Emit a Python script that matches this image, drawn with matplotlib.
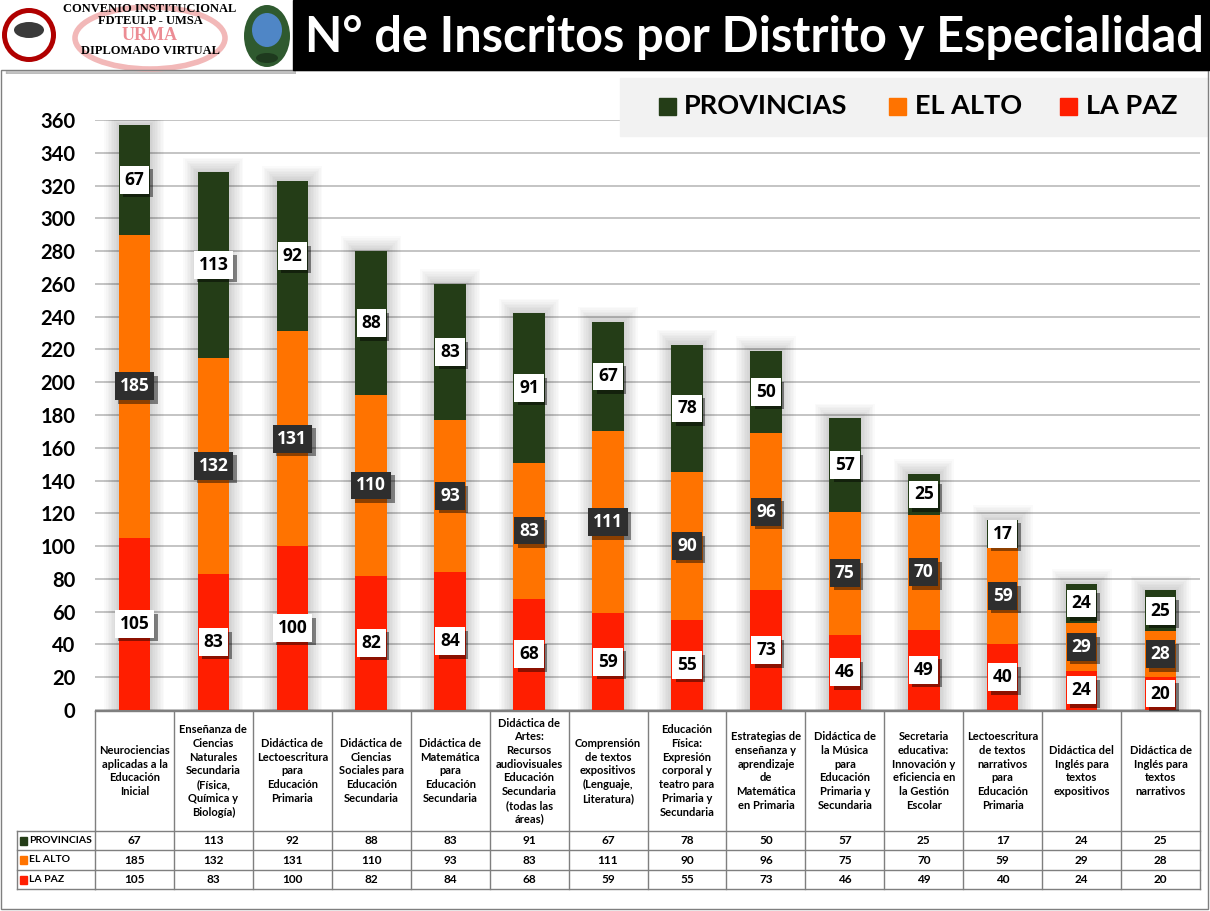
import numpy as np
import matplotlib
matplotlib.use('Agg')
import matplotlib.pyplot as plt
import matplotlib.patheffects as pe
import matplotlib.transforms as mtransforms
from matplotlib.patches import Rectangle, Circle, Ellipse
from matplotlib.lines import Line2D


categories = [
    'Neurociencias\naplicadas a la\nEducación\nInicial',
    'Enseñanza de\nCiencias\nNaturales\nSecundaria\n(Física,\nQuímica y\nBiología)',
    'Didáctica de\nLectoescritura\npara\nEducación\nPrimaria',
    'Didáctica de\nCiencias\nSociales para\nEducación\nSecundaria',
    'Didáctica de\nMatemática\npara\nEducación\nSecundaria',
    'Didáctica de\nArtes:\nRecursos\naudiovisuales\nEducación\nSecundaria\n(todas las\náreas)',
    'Comprensión\nde textos\nexpositivos\n(Lenguaje,\nLiteratura)',
    'Educación\nFísica:\nExpresión\ncorporal y\nteatro para\nPrimaria y\nSecundaria',
    'Estrategias de\nenseñanza y\naprendizaje\nde\nMatemática\nen Primaria',
    'Didáctica de\nla Música\npara\nEducación\nPrimaria y\nSecundaria',
    'Secretaria\neducativa:\nInnovación y\neficiencia en\nla Gestión\nEscolar',
    'Lectoescritura\nde textos\nnarrativos\npara\nEducación\nPrimaria',
    'Didáctica del\nInglés para\ntextos\nexpositivos',
    'Didáctica de\nInglés para\ntextos\nnarrativos',
]
provincias = [67, 113, 92, 88, 83, 91, 67, 78, 50, 57, 25, 17, 24, 25]
el_alto = [185, 132, 131, 110, 93, 83, 111, 90, 96, 75, 70, 59, 29, 28]
la_paz = [105, 83, 100, 82, 84, 68, 59, 55, 73, 46, 49, 40, 24, 20]
series_names = ['PROVINCIAS', 'EL ALTO', 'LA PAZ']
yticks = list(range(0, 361, 20))
title = 'N° de Inscritos por Distrito y Especialidad'

GREEN = '#243D17'
ORANGE = '#FF7300'
RED = '#FF1E00'
colors = [GREEN, ORANGE, RED]

W, H = 1210, 911


def fx(px):
    return px / W


def fy(py):
    return 1 - py / H


fig = plt.figure(figsize=(W / 100, H / 100), dpi=100, facecolor='white')

# outer frame
fig.patches.append(Rectangle((fx(1), fy(909)), fx(1207), (909 - 70) / H, fill=False,
                             edgecolor='#7F7F7F', lw=1, transform=fig.transFigure))

# header band + title
fig.patches.append(Rectangle((fx(293), fy(70)), fx(917), 70 / H, color='black',
                             transform=fig.transFigure))
fig.text(fx(754), fy(38), title, color='white', fontsize=35, fontweight='bold',
         family='Lato', ha='center', va='center')

# logo block
axl = fig.add_axes([0, fy(74), fx(296), 74 / H])
axl.set_xlim(0, 296)
axl.set_ylim(74, 0)
axl.axis('off')
axl.add_patch(Rectangle((6, 6), 290, 68, color='#9a9a9a', alpha=0.6))
axl.add_patch(Rectangle((0, 0), 292, 70, color='white'))
axl.add_patch(Ellipse((150, 38), 150, 62, fill=False, ec='#F2B8B8', lw=4))
axl.add_patch(Circle((29, 35), 27, fc='#B00000'))
axl.add_patch(Circle((29, 35), 22, fc='white'))
axl.add_patch(Ellipse((29, 30), 30, 16, fc='#3a3a3a'))
axl.add_patch(Ellipse((267, 36), 46, 62, fc='#2F5A2F'))
axl.add_patch(Ellipse((267, 30), 30, 34, fc='#4F86C6'))
axl.add_patch(Ellipse((267, 58), 22, 10, fc='#1E3A1E'))
axl.text(150, 9, 'CONVENIO INSTITUCIONAL', family='Liberation Serif', fontweight='bold',
         fontsize=9, ha='center', va='center')
axl.text(150, 21, 'FDTEULP - UMSA', family='Liberation Serif', fontweight='bold',
         fontsize=9, ha='center', va='center')
axl.text(150, 36, 'URMA', family='Liberation Serif', fontweight='bold', fontsize=13,
         color='#E8707A', alpha=0.8, ha='center', va='center')
axl.text(150, 51, 'DIPLOMADO VIRTUAL', family='Liberation Serif', fontweight='bold',
         fontsize=9, ha='center', va='center')

# legend panel
fig.patches.append(Rectangle((fx(620), fy(136)), fx(588), (136 - 78) / H, color='#F2F2F2',
                             transform=fig.transFigure, zorder=0))
leg_sq = [659, 889, 1060]
leg_tx = [684, 915, 1086]
for name, c, sx, tx in zip(series_names, colors, leg_sq, leg_tx):
    fig.patches.append(Rectangle((fx(sx), fy(115)), fx(17), 17 / H, color=c,
                                 transform=fig.transFigure))
    fig.text(fx(tx), fy(106), name, fontsize=19.5, fontweight='bold', family='Lato',
             ha='left', va='center')

# main chart
ax = fig.add_axes([fx(95), fy(710), fx(1200) - fx(95), (710 - 120) / H])
ax.patch.set_alpha(0)
x = np.arange(len(categories))
lp = np.array(la_paz)
ea = np.array(el_alto)
pr = np.array(provincias)
totals = lp + ea + pr

for k in range(1, 10):
    ax.bar(x, totals + k * 1.0, width=0.4 + k * 0.04, color='black', alpha=0.02,
           linewidth=0, zorder=1)

ax.bar(x, lp, 0.4, color=RED, zorder=3)
ax.bar(x, ea, 0.4, bottom=lp, color=ORANGE, zorder=3)
ax.bar(x, pr, 0.4, bottom=lp + ea, color=GREEN, zorder=3)

ax.set_xlim(-0.5, len(categories) - 0.5)
ax.set_ylim(0, 360)
ax.set_yticks(yticks)
ax.set_xticks([])
ax.yaxis.grid(True, color='#BFBFBF', lw=1.3)
ax.set_axisbelow(True)
for s in ['top', 'right', 'left']:
    ax.spines[s].set_visible(False)
ax.spines['bottom'].set_color('#7F7F7F')
ax.tick_params(axis='y', length=0, pad=14)
for lab in ax.get_yticklabels():
    lab.set_fontweight('bold')
    lab.set_fontsize(14.5)
    lab.set_family('Lato')

# value labels
segs = [(lp, lp / 2, 'white', 'black'),
        (ea, lp + ea / 2, '#2E2E2E', 'white'),
        (pr, lp + ea + pr / 2, 'white', 'black')]
for vals, mids, fc, tc in segs:
    for i in range(len(x)):
        t = ax.text(x[i], mids[i], str(vals[i]), ha='center', va='center', fontsize=12.5,
                    fontweight='bold', family='Open Sans', color=tc, zorder=6,
                    bbox=dict(boxstyle='square,pad=0.28', fc=fc, ec='none'))
        t.get_bbox_patch().set_path_effects(
            [pe.withSimplePatchShadow(offset=(2.5, -2.5), shadow_rgbFace='black', alpha=0.45)])

# data table
tr = mtransforms.blended_transform_factory(ax.transData, fig.transFigure)
lc = '#7F7F7F'
n = len(categories)
rows = [711, 831, 850, 870, 889]
for py in rows:
    ax.add_line(Line2D([-0.5, n - 0.5], [fy(py), fy(py)], transform=tr, color=lc, lw=1,
                       clip_on=False))
for py in rows[1:]:
    fig.add_artist(Line2D([fx(17), fx(95)], [fy(py), fy(py)], color=lc, lw=1))
fig.add_artist(Line2D([fx(17), fx(17)], [fy(831), fy(889)], color=lc, lw=1))
for k in range(n + 1):
    ax.add_line(Line2D([k - 0.5, k - 0.5], [fy(711), fy(889)], transform=tr, color=lc,
                       lw=1, clip_on=False))

for i, cat in enumerate(categories):
    ax.text(i, fy(771), cat, transform=tr, ha='center', va='center', fontsize=8,
            fontweight='bold', family='Lato', linespacing=1.3, clip_on=False)

row_vals = [provincias, el_alto, la_paz]
row_mid = [840.5, 860, 879.5]
for name, c, vals, py in zip(series_names, colors, row_vals, row_mid):
    fig.patches.append(Rectangle((fx(20), fy(py + 4)), fx(7), 8 / H, color=c,
                                 transform=fig.transFigure))
    fig.text(fx(29), fy(py), name, fontsize=7.5, fontweight='bold', family='Lato',
             ha='left', va='center')
    for i, v in enumerate(vals):
        ax.text(i, fy(py), str(v), transform=tr, ha='center', va='center', fontsize=8.5,
                fontweight='bold', family='Lato', clip_on=False)

fig.savefig('out.png', dpi=100)
